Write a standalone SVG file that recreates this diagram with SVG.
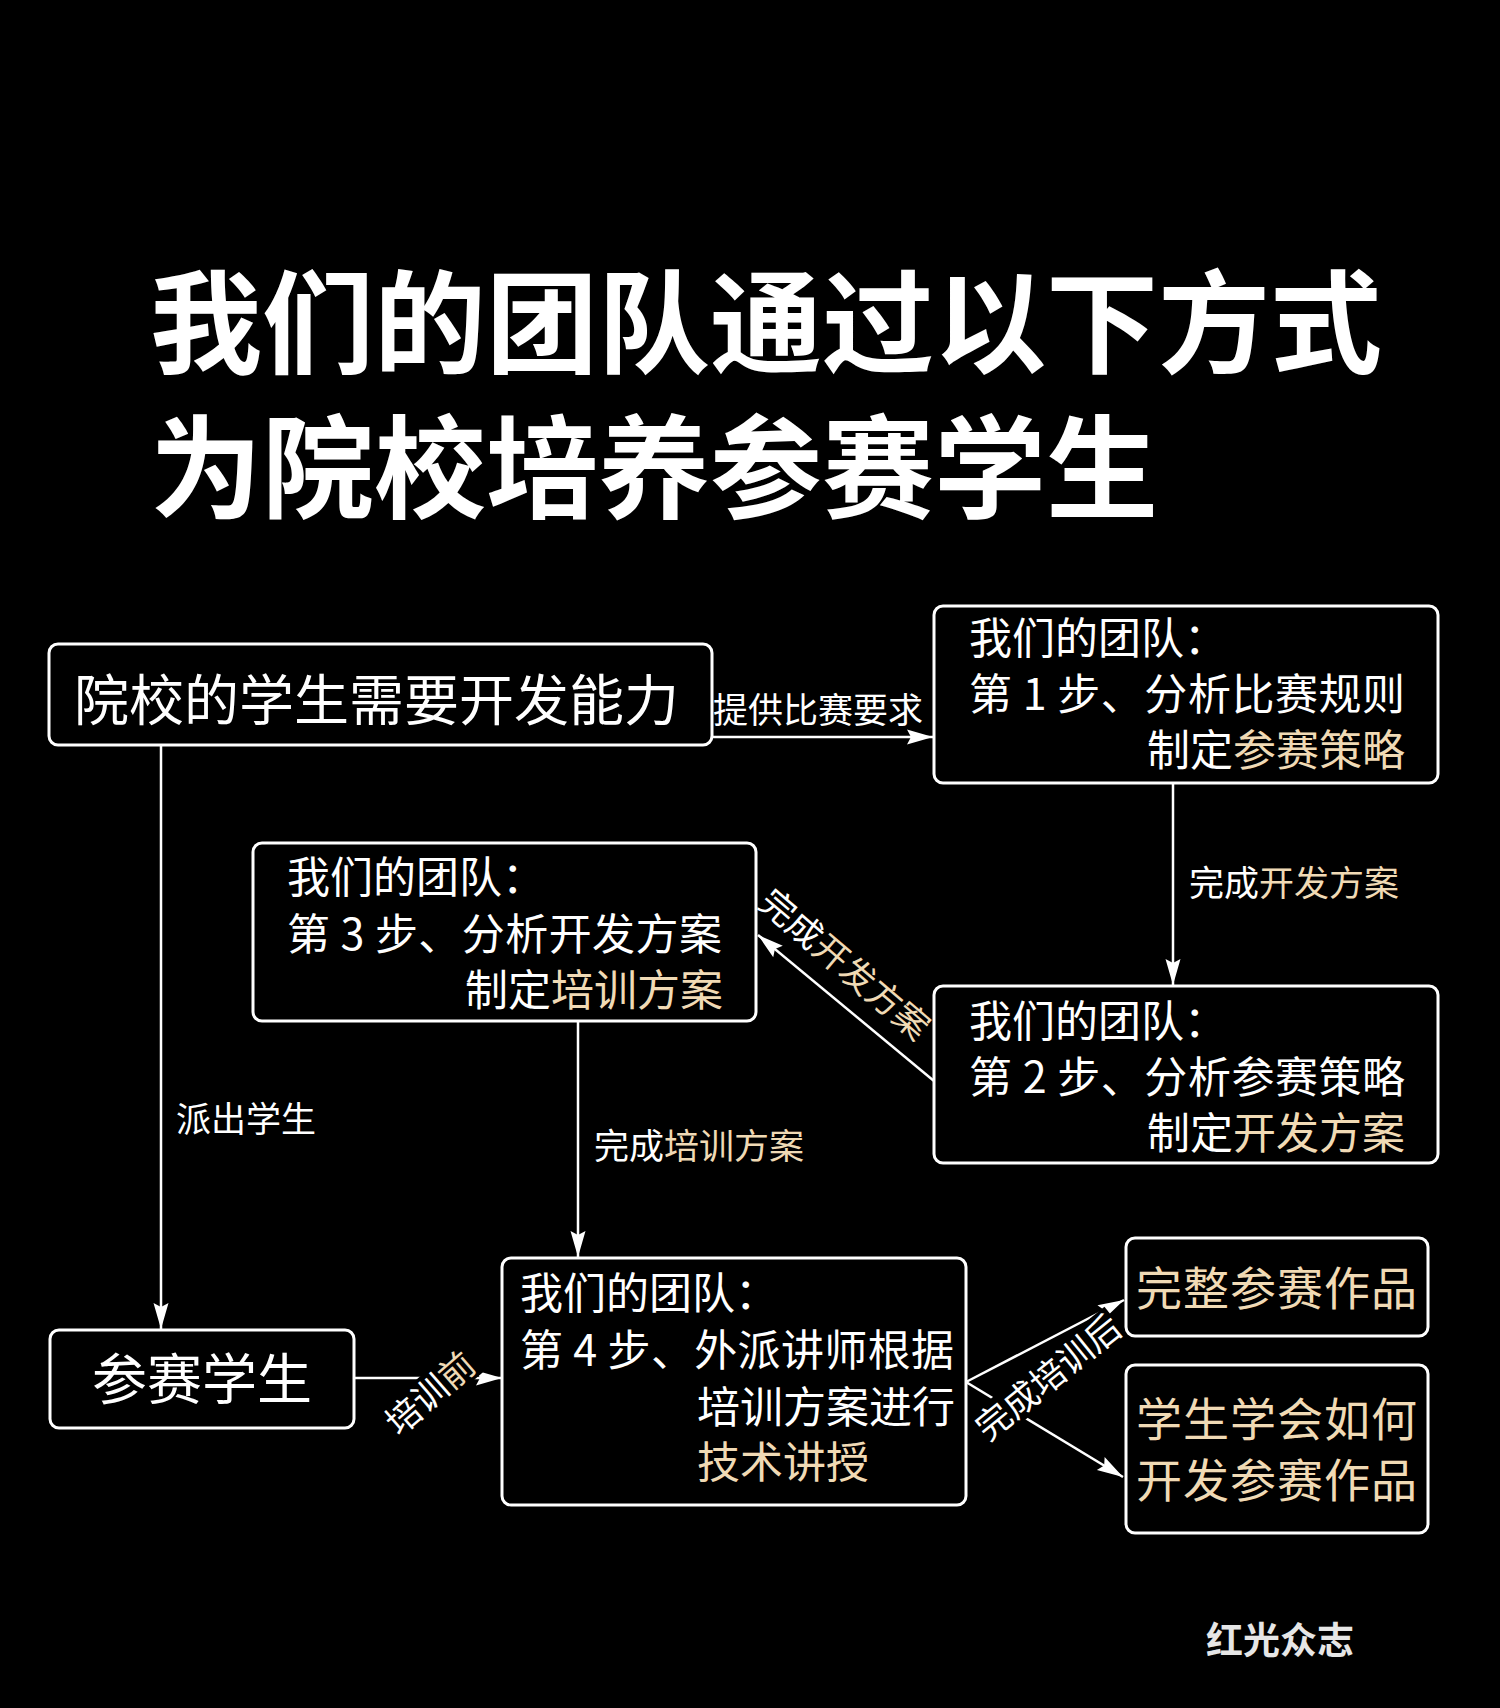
<svg xmlns="http://www.w3.org/2000/svg" width="1500" height="1708" viewBox="0 0 1500 1708">
<defs>
<style>
text{font-family:"Noto Sans CJK SC","Noto Sans",sans-serif;fill:#ffffff}
.title{font-size:112px;font-weight:bold}
.box{fill:#000;stroke:#fff;stroke-width:3}
.t43{font-size:43px}
.lbl{font-size:35px}
.hl{fill:#f0dab5}
.edge{stroke:#fff;stroke-width:2.5;fill:none}
</style>
<marker id="arr" markerUnits="userSpaceOnUse" markerWidth="28" markerHeight="18" refX="27" refY="9" orient="auto">
<path d="M1,1.5 L27,9 L1,16.5 L5,9 z" fill="#fff"/>
</marker>
</defs>
<rect width="1500" height="1708" fill="#000"/>

<g id="title">
<text class="title" x="150" y="365">我们的团队通过以下方式</text>
<text class="title" x="150" y="510">为院校培养参赛学生</text>
</g>

<g id="connectors">
<path class="edge" d="M712,737 L933,737" marker-end="url(#arr)"/>
<path class="edge" d="M1173,783 L1173,985" marker-end="url(#arr)"/>
<path class="edge" d="M934,1081 L758,935" marker-end="url(#arr)"/>
<path class="edge" d="M578,1021 L578,1257" marker-end="url(#arr)"/>
<path class="edge" d="M161,745 L161,1329" marker-end="url(#arr)"/>
<path class="edge" d="M354,1378 L502,1378" marker-end="url(#arr)"/>
<path class="edge" d="M966,1382 L1124,1300" marker-end="url(#arr)"/>
<path class="edge" d="M966,1382 L1123,1477" marker-end="url(#arr)"/>

<text class="lbl" x="713" y="723">提供比赛要求</text>
<text class="lbl" x="1189" y="896">完成<tspan class="hl">开发方案</tspan></text>
<text class="lbl" text-anchor="middle" transform="translate(845,964) rotate(40.5)" y="13">完成<tspan class="hl">开发方案</tspan></text>
<text class="lbl" x="594" y="1159">完成<tspan class="hl">培训方案</tspan></text>
<text class="lbl" x="176" y="1132">派出学生</text>
<g transform="translate(430,1393) rotate(-41)">
<rect x="-54" y="-19" width="108" height="38" fill="#000"/>
<text class="lbl" text-anchor="middle" y="13">培训<tspan class="hl">前</tspan></text>
</g>
<g transform="translate(1048,1377) rotate(-39)">
<rect x="-88" y="-19" width="176" height="38" fill="#000"/>
<text class="lbl" text-anchor="middle" y="13">完成培训后</text>
</g>
</g>

<g id="node-need">
<rect class="box" x="49" y="644" width="663" height="101" rx="9"/>
<text x="74" y="720" style="font-size:55px">院校的学生需要开发能力</text>
</g>

<g id="node-step1">
<rect class="box" x="934" y="606" width="504" height="177" rx="9"/>
<text class="t43" x="969" y="654">我们的团队：</text>
<text class="t43" x="969" y="710" textLength="436">第 1 步、分析比赛规则</text>
<text class="t43" x="1405" y="766" text-anchor="end">制定<tspan class="hl">参赛策略</tspan></text>
</g>

<g id="node-step2">
<rect class="box" x="934" y="986" width="504" height="177" rx="9"/>
<text class="t43" x="969" y="1037">我们的团队：</text>
<text class="t43" x="969" y="1093" textLength="436">第 2 步、分析参赛策略</text>
<text class="t43" x="1405" y="1149" text-anchor="end">制定<tspan class="hl">开发方案</tspan></text>
</g>

<g id="node-step3">
<rect class="box" x="253" y="843" width="503" height="178" rx="9"/>
<text class="t43" x="287" y="893">我们的团队：</text>
<text class="t43" x="287" y="950" textLength="435">第 3 步、分析开发方案</text>
<text class="t43" x="723" y="1006" text-anchor="end">制定<tspan class="hl">培训方案</tspan></text>
</g>

<g id="node-students">
<rect class="box" x="50" y="1330" width="304" height="98" rx="9"/>
<text x="202" y="1399" text-anchor="middle" style="font-size:55px">参赛学生</text>
</g>

<g id="node-step4">
<rect class="box" x="502" y="1258" width="464" height="247" rx="9"/>
<text class="t43" x="520" y="1309">我们的团队：</text>
<text class="t43" x="520" y="1366" textLength="434">第 4 步、外派讲师根据</text>
<text class="t43" x="697" y="1423">培训方案进行</text>
<text class="t43 hl" x="697" y="1478">技术讲授</text>
</g>

<g id="node-works">
<rect class="box" x="1126" y="1238" width="302" height="98" rx="9"/>
<text class="hl" x="1277" y="1305" text-anchor="middle" style="font-size:46px;letter-spacing:1px">完整参赛作品</text>
</g>

<g id="node-learn">
<rect class="box" x="1126" y="1365" width="302" height="168" rx="9"/>
<text class="hl" x="1277" y="1436" text-anchor="middle" style="font-size:46px;letter-spacing:1px">学生学会如何</text>
<text class="hl" x="1277" y="1497" text-anchor="middle" style="font-size:46px;letter-spacing:1px">开发参赛作品</text>
</g>

<g id="footer">
<text x="1206" y="1654" style="font-size:37px;font-weight:bold;fill:#e6e6e6">红光众志</text>
</g>
</svg>
